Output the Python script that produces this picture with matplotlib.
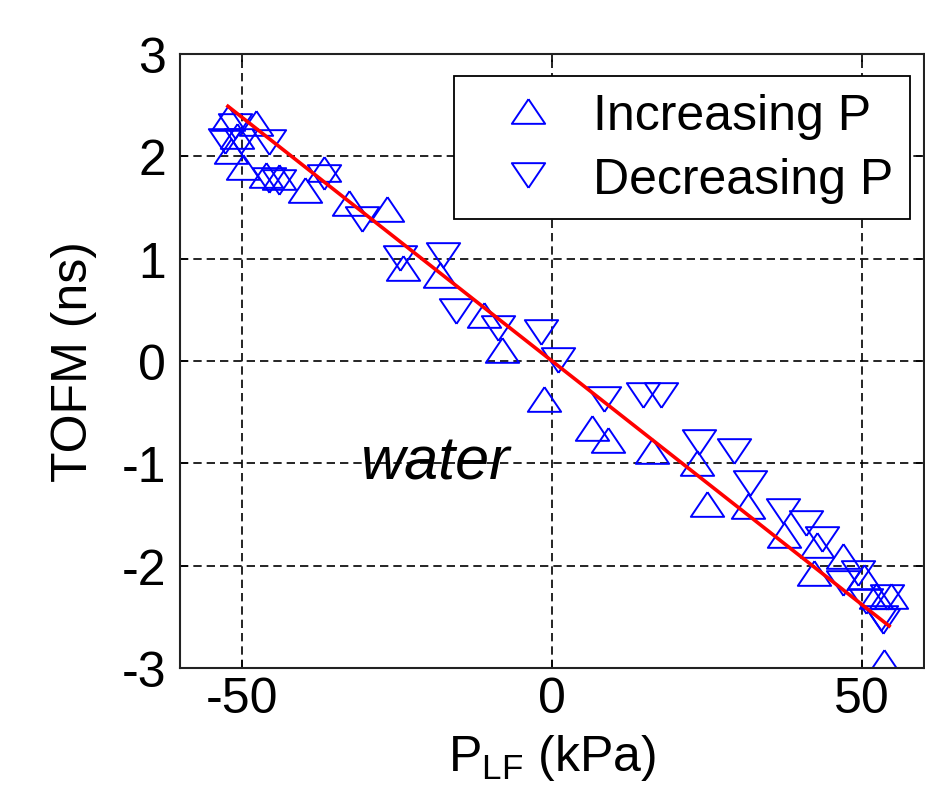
import matplotlib
matplotlib.use('Agg')
import matplotlib.pyplot as plt

plt.rcParams['font.family'] = ['Liberation Sans', 'DejaVu Sans']
plt.rcParams['mathtext.fontset'] = 'custom'
plt.rcParams['mathtext.rm'] = 'Liberation Sans'
plt.rcParams['mathtext.it'] = 'Liberation Sans:italic'
plt.rcParams['axes.unicode_minus'] = False

# ---- data ----
inc_x = [-52.3, -47.8, -51.7, -50.8, -49.9, -46.1, -44.0, -39.9, -36.7, -32.7,
         -26.6, -24.0, -18.0, -10.9, -8.1, -1.3, 6.4, 9.0, 16.1, 23.4,
         25.0, 31.6, 37.4, 42.7, 42.2, 47.0, 50.3, 52.2, 54.6, 53.5]
inc_y = [2.37, 2.33, 2.05, 2.20, 1.90, 1.82, 1.80, 1.67, 1.88, 1.54,
         1.49, 0.91, 0.84, 0.45, 0.11, -0.37, -0.65, -0.77, -0.88, -1.00,
         -1.40, -1.42, -1.70, -1.80, -2.07, -1.91, -2.11, -2.30, -2.30, -2.94]

dec_x = [-52.8, -51.2, -50.1, -45.7, -45.7, -44.1, -36.7, -30.6, -24.5, -17.6,
         -15.5, -8.7, -1.8, 1.0, 8.4, 14.6, 17.6, 23.7, 29.3, 31.9,
         37.2, 40.9, 43.5, 47.0, 49.4, 50.6, 54.1, 53.4, 53.0]
dec_y = [2.15, 2.30, 2.15, 2.14, 1.77, 1.75, 1.80, 1.39, 1.01, 1.04,
         0.49, 0.32, 0.28, 0.01, -0.37, -0.33, -0.33, -0.79, -0.88, -1.19,
         -1.47, -1.58, -1.74, -2.17, -2.07, -2.35, -2.31, -2.54, -2.51]

fit_x = [-52.5, 54.6]
fit_y = [2.50, -2.60]

x_ticks = [-50, 0, 50]
y_ticks = [-3, -2, -1, 0, 1, 2, 3]

# ---- figure ----
fig = plt.figure(figsize=(9.25, 8.04), dpi=100)
ax = fig.add_axes([180/925, 1-669/804, (924-180)/925, (669-55)/804])

up = [(0, 0.74), (-1, -0.74), (1, -0.74), (0, 0.74)]
down = [(0, -0.74), (-1, 0.74), (1, 0.74), (0, -0.74)]

ax.plot(inc_x, inc_y, linestyle='none', marker=up, ms=24, mfc='none',
        mec='blue', mew=1.4, label='Increasing P', zorder=2)
ax.plot(dec_x, dec_y, linestyle='none', marker=down, ms=24, mfc='none',
        mec='blue', mew=1.4, label='Decreasing P', zorder=2)
ax.plot(fit_x, fit_y, color='red', lw=2.6, zorder=3, solid_capstyle='butt')

ax.set_xlim(-60, 60)
ax.set_ylim(-3, 3)
ax.set_xticks(x_ticks)
ax.set_yticks(y_ticks)
ax.grid(True, color='black', linestyle=(0, (5, 3)), linewidth=1.2)
ax.set_axisbelow(True)

ax.tick_params(axis='both', direction='in', length=6, width=1.2,
               top=True, right=True, labelsize=36)
ax.tick_params(axis='x', pad=6)
ax.tick_params(axis='y', pad=10)
for s in ax.spines.values():
    s.set_linewidth(1.5)
    s.set_color('#222222')

ax.set_ylabel('TOFM (ns)', fontsize=36)
ax.yaxis.set_label_coords(-0.112, 0.5)
ax.set_xlabel(r'P$_{\mathrm{LF}}$ (kPa)', fontsize=36)
ax.xaxis.set_label_coords(0.5, -0.105)

ax.text(-18.7, -1.0, 'water', style='italic', fontsize=44,
        ha='center', va='center')

leg = ax.legend(loc='upper right', bbox_to_anchor=(910/925, 1-77/804),
                bbox_transform=fig.transFigure, borderaxespad=0,
                fancybox=False, edgecolor='black', framealpha=1,
                fontsize=36, handlelength=2.3, handletextpad=0.15,
                borderpad=0.33, labelspacing=0.36)
leg.get_frame().set_linewidth(1.3)

fig.savefig('out.png', dpi=100)
